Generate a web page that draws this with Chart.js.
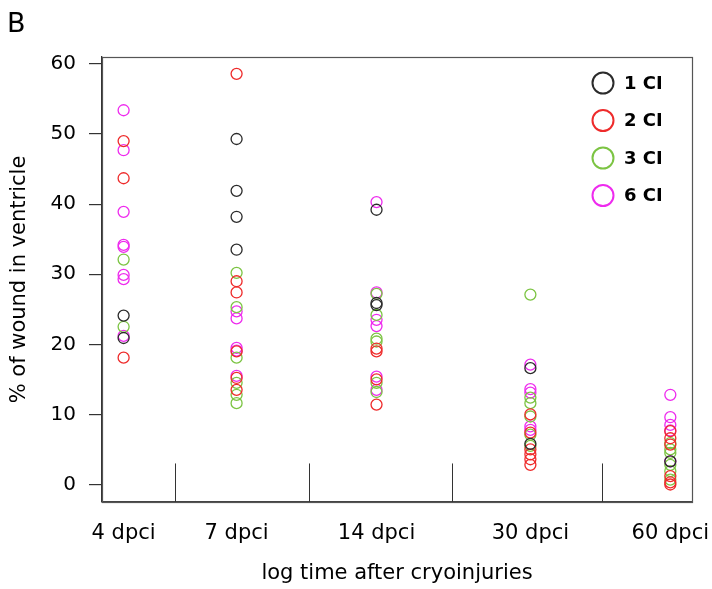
<!DOCTYPE html>
<html><head><meta charset="utf-8">
<script src="https://cdn.jsdelivr.net/npm/chart.js@4"></script>
<style>html,body{margin:0;padding:0;background:#fff}#wrap{width:712px;height:589px;position:relative}</style>
</head><body><div id="wrap"><canvas id="c" width="712" height="589"></canvas></div>
<script>
const categories = ['4 dpci','7 dpci','14 dpci','30 dpci','60 dpci'];
const days = [4, 7, 14, 30, 60];
const seriesNames = ['1 CI','2 CI','3 CI','6 CI'];
const yTicks = [0, 10, 20, 30, 40, 50, 60];
const separatorDays = [5.15, 10, 20.35, 42.8];
const separatorTop = 3.0;

const ci1 = [[24.1,20.9],[49.3,41.9,38.2,33.5],[39.2,25.9,25.6],[16.6,5.8],[3.3]];
const ci2 = [[49.0,43.7,18.1],[58.6,29.0,27.4,19.0,15.2,13.5],[19.4,19.0,15.0,11.4],[10.0,7.4,5.0,4.3,3.6,2.8],[7.6,6.6,5.7,1.2,0.3,0.0]];
const ci3 = [[32.1,22.5],[30.2,25.3,18.1,14.5,12.8,11.6],[27.2,24.2,20.8,20.4,14.5,13.2],[27.1,12.4,11.6,9.7,7.1,5.5],[5.9,5.0,4.5,2.8,1.9,0.7]];
const ci6 = [[53.4,47.7,38.9,34.2,33.9,29.9,29.3,21.2],[24.7,23.7,19.5,19.1,15.5],[40.3,27.4,23.5,22.6,15.4,13.5],[17.1,13.6,13.1,8.3,7.8],[12.8,9.6,8.5,7.7,3.3]];

const colors = ['#2b2b2b','#ee2b2b','#7cc443','#ee2bee'];
const seriesVals = [ci1, ci2, ci3, ci6];

function toPoints(vals){
  const pts = [];
  vals.forEach((arr,i)=>arr.forEach(v=>pts.push({x:days[i], y:v})));
  return pts;
}
const datasets = seriesVals.map((vals,i)=>({
  label: seriesNames[i],
  data: toPoints(vals),
  borderColor: colors[i],
  backgroundColor: 'rgba(0,0,0,0)',
  pointRadius: 5.5,
  pointBorderWidth: 1.3,
  pointStyle: 'circle',
  order: i + 1
}));

const FONT = "'DejaVu Sans', sans-serif";

const framePlugin = {
  id: 'frame',
  afterDraw(chart){
    const {ctx, chartArea:a, scales} = chart;
    ctx.save();
    ctx.strokeStyle = '#555';
    ctx.lineWidth = 1.2;
    ctx.strokeRect(a.left+0.5, a.top+0.5, a.right-a.left, a.bottom-a.top);
    ctx.strokeStyle = '#333';
    ctx.lineWidth = 1;
    const yTop = scales.y.getPixelForValue(separatorTop);
    separatorDays.forEach(d=>{
      const x = Math.round(scales.x.getPixelForValue(d))+0.5;
      ctx.beginPath(); ctx.moveTo(x, yTop); ctx.lineTo(x, a.bottom); ctx.stroke();
    });
    // legend
    const lx = 603, ly0 = 83, dy = 37.5;
    chart.data.datasets.forEach((ds,i)=>{
      const y = ly0 + i*dy;
      ctx.beginPath(); ctx.arc(lx, y, 10.5, 0, Math.PI*2);
      ctx.strokeStyle = ds.borderColor; ctx.lineWidth = 2; ctx.stroke();
      ctx.fillStyle = '#000'; ctx.font = "bold 18px " + FONT;
      ctx.textBaseline = 'middle'; ctx.textAlign = 'left';
      ctx.fillText(ds.label, 624, y+1);
    });
    // panel letter
    ctx.font = "27px " + FONT; ctx.textBaseline = 'alphabetic';
    ctx.fillText('B', 7, 32);
    ctx.restore();
  }
};

new Chart(document.getElementById('c'), {
  type: 'scatter',
  data: { datasets },
  options: {
    responsive: false,
    animation: false,
    layout: { padding: { left: 0, right: 20, top: 57, bottom: 0 } },
    plugins: { legend: { display: false }, tooltip: { enabled: false } },
    scales: {
      x: {
        type: 'logarithmic',
        min: 3.594, max: 66.8,
        afterBuildTicks(s){ s.ticks = days.map(v=>({value:v})); },
        afterFit(s){ s.height = 87; s.paddingRight = 0; s.paddingLeft = 0; },
        ticks: {
          autoSkip: false, maxRotation: 0, padding: 19,
          color: '#000', font: { family: FONT, size: 21 },
          callback(v){ const i = days.indexOf(v); return i>=0 ? categories[i] : ''; }
        },
        grid: { display: false, drawTicks: false },
        border: { display: true, color: '#444', width: 1.2 },
        title: { display: true, text: 'log time after cryoinjuries', color: '#000',
                 font: { family: FONT, size: 21 }, padding: { top: 0, bottom: 3 } }
      },
      y: {
        min: -2.5, max: 61,
        afterBuildTicks(s){ s.ticks = yTicks.map(v=>({value:v})); },
        afterFit(s){ s.width = 102; },
        ticks: { padding: 13, color: '#000', font: { family: FONT, size: 20 } },
        grid: { drawOnChartArea: false, drawTicks: true, tickLength: 13, color: '#333', lineWidth: 1.2 },
        border: { display: true, color: '#333', width: 1.3 },
        title: { display: true, text: '% of wound in ventricle', color: '#000',
                 font: { family: FONT, size: 21 }, padding: { top: 7, bottom: 0 } }
      }
    }
  },
  plugins: [framePlugin]
});
</script>
</body></html>
